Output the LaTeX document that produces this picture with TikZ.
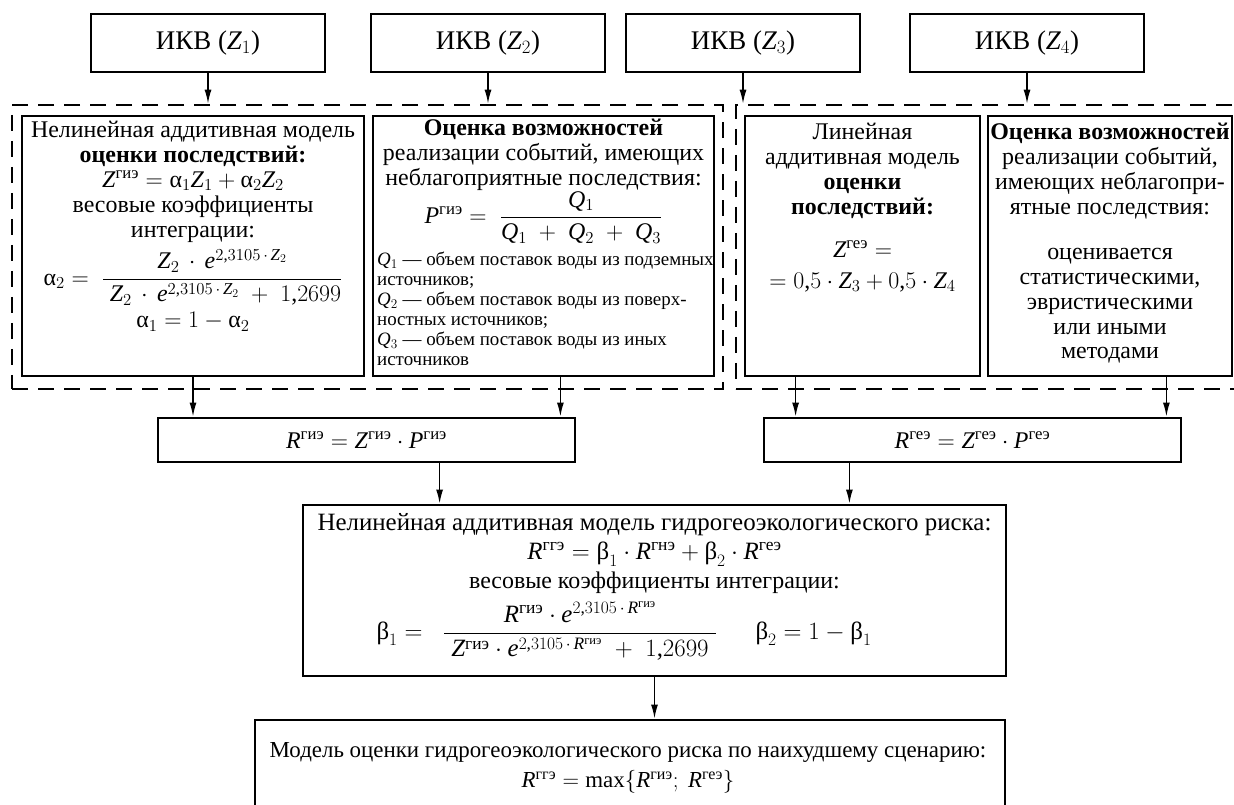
\RequirePackage{fix-cm}
\documentclass[tikz,border=0pt]{standalone}
\usepackage{amsmath}
\usepackage{fontspec}
\setmainfont{Liberation Serif}
\usetikzlibrary{arrows.meta,calc}

% digits and signs of the formulas in the text face
\DeclareSymbolFont{lsops}{TU}{\rmdefault}{m}{n}
\DeclareMathSymbol{0}{\mathalpha}{lsops}{"30}
\DeclareMathSymbol{1}{\mathalpha}{lsops}{"31}
\DeclareMathSymbol{2}{\mathalpha}{lsops}{"32}
\DeclareMathSymbol{3}{\mathalpha}{lsops}{"33}
\DeclareMathSymbol{4}{\mathalpha}{lsops}{"34}
\DeclareMathSymbol{5}{\mathalpha}{lsops}{"35}
\DeclareMathSymbol{6}{\mathalpha}{lsops}{"36}
\DeclareMathSymbol{7}{\mathalpha}{lsops}{"37}
\DeclareMathSymbol{8}{\mathalpha}{lsops}{"38}
\DeclareMathSymbol{9}{\mathalpha}{lsops}{"39}
\DeclareMathSymbol{=}{\mathrel}{lsops}{"3D}
\DeclareMathSymbol{+}{\mathbin}{lsops}{"2B}
\DeclareMathSymbol{,}{\mathpunct}{lsops}{"2C}
\DeclareMathSymbol{;}{\mathpunct}{lsops}{"3B}

\newcommand{\vZ}{\mathit{Z}}
\newcommand{\vR}{\mathit{R}}
\newcommand{\vP}{\mathit{P}}
\newcommand{\vQ}{\mathit{Q}}
\newcommand{\ve}{\mathit{e}}
\newcommand{\alp}{\text{α}}
\newcommand{\bet}{\text{β}}
\newcommand{\gie}{\text{гиэ}}
\newcommand{\gne}{\text{гнэ}}
\newcommand{\gee}{\text{геэ}}
\newcommand{\gge}{\text{ггэ}}
\newcommand{\mdfont}{\fontsize{24}{25}\selectfont}
\newcommand{\bgfont}{\fontsize{25}{26}\selectfont}
\newcommand{\btfont}{\fontsize{23}{24}\selectfont}
\newcommand{\topfont}{\fontsize{27}{28}\selectfont}
\newcommand{\smfont}{\fontsize{19}{20}\selectfont}

\tikzset{
  ikvbox/.style={draw,line width=2.6bp,minimum width=234bp,minimum height=58bp,inner sep=0pt,font=\topfont},
  mdlbox/.style={draw,line width=2.8bp,inner sep=0pt},
  grpbox/.style={draw,line width=2.6bp,dash pattern=on 16bp off 10bp,inner sep=0pt},
  txt/.style={align=center,inner sep=0pt,font=\mdfont},
  smtxt/.style={align=left,inner sep=0pt,font=\smfont},
  arr/.style={->,line width=1.5bp},
}

\begin{document}
\begin{tikzpicture}[>={Latex[length=14bp,width=7bp]},line join=miter]
\clip (0bp,0bp) rectangle (1234bp,805bp);
\useasboundingbox (0bp,0bp) rectangle (1234bp,805bp);
%% input blocks
\node (ikv_1) at (208bp,762bp) [ikvbox] {ИКВ ($\vZ_1$)};
  \node (ikv_2) at (488bp,762bp) [ikvbox] {ИКВ ($\vZ_2$)};
  \node (ikv_3) at (743bp,762bp) [ikvbox] {ИКВ ($\vZ_3$)};
  \node (ikv_4) at (1027bp,762bp) [ikvbox] {ИКВ ($\vZ_4$)};
%% groups
\node (grp_gie) at (367.5bp,558bp) [grpbox,minimum width=711bp,minimum height=284bp] {};
  \node (grp_gee) at (990.5bp,558bp) [grpbox,minimum width=509bp,minimum height=284bp] {};
\node (mdl_gie) at (193bp,559bp) [mdlbox,minimum width=342bp,minimum height=260bp] {};
  \node (prob_gie) at (543.5bp,559bp) [mdlbox,minimum width=341bp,minimum height=260bp] {};
  \node (mdl_gee) at (862.5bp,559bp) [mdlbox,minimum width=235bp,minimum height=260bp] {};
  \node (prob_gee) at (1110bp,559bp) [mdlbox,minimum width=244bp,minimum height=260bp] {};
%% texts of the groups
\node (mdl_gie_txt) at (193bp,684bp) [txt,anchor=north] {Нелинейная аддитивная модель\\
  \textbf{оценки последствий:}\\
  $\vZ^{\gie} = \alp_1\vZ_1 + \alp_2\vZ_2$\\
  весовые коэффициенты\\
  интеграции:\\[6bp]
  $\alp_2 = \;\dfrac{\vZ_2\,\cdot\, \ve^{2,3105\,\cdot\,\vZ_2}}{\;\vZ_2\,\cdot\, \ve^{2,3105\,\cdot\,\vZ_2} \;+\; 1{,}2699}$\\[6bp]
  $\alp_1 = 1 - \alp_2$};
\node (prob_gie_txt) at (543.5bp,686bp) [txt,anchor=north] {\textbf{Оценка возможностей}\\
  реализации событий, имеющих\\
  неблагоприятные последствия:\\
  $\vP^{\gie} = \;\dfrac{\vQ_1}{\vQ_1 \;+\; \vQ_2 \;+\; \vQ_3}$};
\node (prob_gie_q) at (377bp,553bp) [smtxt,anchor=north west] {$\vQ_1$ — объем поставок воды из подземных\\
  источников;\\
  $\vQ_2$ — объем поставок воды из поверх-\\
  ностных источников;\\
  $\vQ_3$ — объем поставок воды из иных\\
  источников};
\node (mdl_gee_txt) at (862.5bp,682bp) [txt,anchor=north] {Линейная\\
  аддитивная модель\\
  \textbf{оценки}\\
  \textbf{последствий:}\\[18bp]
  $\vZ^{\gee} =$\\[6bp]
  $= 0{,}5\cdot \vZ_3 + 0{,}5\cdot \vZ_4$};
\node (prob_gee_txt) at (1110bp,682bp) [txt,anchor=north] {\textbf{Оценка возможностей}\\
  реализации событий,\\
  имеющих неблагопри-\\
  ятные последствия:\\[20bp]
  оценивается\\
  статистическими,\\
  эвристическими\\
  или иными\\
  методами};
%% risk of each part
\node (r_gie) at (366.5bp,365bp) [mdlbox,minimum width=417bp,minimum height=44bp,font=\mdfont] {$\vR^{\gie} = \vZ^{\gie}\cdot \vP^{\gie}$};
  \node (r_gee) at (972.5bp,365bp) [mdlbox,minimum width=417bp,minimum height=44bp,font=\mdfont] {$\vR^{\gee} = \vZ^{\gee}\cdot \vP^{\gee}$};
\node (risk_gge) at (654.5bp,214.5bp) [mdlbox,minimum width=703bp,minimum height=171bp] {};
  \node (risk_ttl) at (654.5bp,265bp) [txt,font=\bgfont] {Нелинейная аддитивная модель гидрогеоэкологического риска:\\[3bp]
  $\vR^{\gge} = \bet_1\cdot \vR^{\gne} + \bet_2\cdot \vR^{\gee}$};
  \node (risk_wt) at (654.5bp,222bp) [txt] {весовые коэффициенты интеграции:};
  \node (risk_frm) at (624bp,174bp) [txt,font=\bgfont] {$\bet_1 = \;\;\dfrac{\vR^{\gie}\cdot \ve^{2,3105\,\cdot\,\vR^{\gie}}}{\;\vZ^{\gie}\cdot \ve^{2,3105\,\cdot\,\vR^{\gie}} \;+\; 1{,}2699\;}\quad\;\; \bet_2 = 1 - \bet_1$};
\node (worst) at (630bp,30bp) [mdlbox,minimum width=750bp,minimum height=110bp] {};
  \node (worst_txt) at (628bp,37bp) [txt,font=\btfont] {Модель оценки гидрогеоэкологического риска по наихудшему сценарию:\\[6bp]
  $\vR^{\gge} = \max\{\vR^{\gie};\ \vR^{\gee}\}$};
%% inlets
\coordinate (in_gie_b) at ($(r_gie.north east)+(-16bp,0bp)$);
  \coordinate (in_gee_a) at ($(r_gee.north west)+(33bp,0bp)$);
  \coordinate (in_gee_b) at ($(r_gee.north east)+(-16bp,0bp)$);
  \coordinate (in_risk_a) at ($(risk_gge.north west)+(138bp,0bp)$);
  \coordinate (in_risk_b) at ($(risk_gge.north east)+(-158bp,0bp)$);
%% arrows
\draw [arr] (ikv_1) -- (ikv_1 |- grp_gie.north);
  \draw [arr] (ikv_2) -- (ikv_2 |- grp_gie.north);
  \draw [arr] (ikv_3) -- (ikv_3 |- grp_gee.north);
  \draw [arr] (ikv_4) -- (ikv_4 |- grp_gee.north);
  \draw [arr] (mdl_gie) -- (mdl_gie |- r_gie.north);
  \draw [arr] (in_gie_b |- prob_gie.south) -- (in_gie_b);
  \draw [arr] (in_gee_a |- mdl_gee.south) -- (in_gee_a);
  \draw [arr] (in_gee_b |- prob_gee.south) -- (in_gee_b);
  \draw [arr] (in_risk_a |- r_gie.south) -- (in_risk_a);
  \draw [arr] (in_risk_b |- r_gee.south) -- (in_risk_b);
  \draw [arr] (risk_gge) -- (risk_gge |- worst.north);
%
\end{tikzpicture}
\end{document}
